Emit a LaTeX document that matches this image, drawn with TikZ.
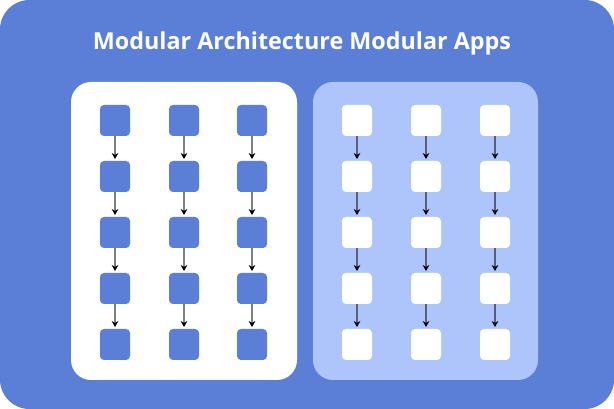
\documentclass[tikz,border=0pt]{standalone}
\usepackage{fontspec}
\setmainfont{Open Sans}
\usetikzlibrary{arrows.meta,positioning}
\definecolor{bgColor}{HTML}{5B7FD6}
\definecolor{panelColor}{HTML}{ADC5FA}
\definecolor{lnLeft}{HTML}{808080}
\definecolor{lnRight}{HTML}{565F79}
\tikzset{
	modbox/.style={rounded corners=3pt, minimum width=22.5pt, minimum height=23.25pt, inner sep=0, outer sep=0},
	link/.style={draw=#1, line width=1.1pt, shorten >=1.5pt, -{Stealth[black, length=4.5pt, width=5pt]}}
}

\begin{document}
\begin{tikzpicture}[x=0.75pt, y=-0.75pt]
	\useasboundingbox (0,0) rectangle (614,409);
	\fill[white] (0,0) rectangle (614,409);
	\fill[bgColor, rounded corners=22pt] (0,0) rectangle (614,409);
	\node[text=white, font=\fontsize{17.5}{21}\selectfont\bfseries, anchor=base] (title) at (302,49.5) {Modular Architecture Modular Apps};
	
	\fill[white, rounded corners=15pt] (71,82) rectangle (297,380);
	\fill[panelColor, rounded corners=15pt] (313,82) rectangle (538,380);
	
	\foreach \c/\x/\u in {1/115/357, 2/184/426, 3/252/495} {
		\foreach \r/\y in {1/120.5, 2/176.5, 3/232.5, 4/288.5, 5/344.5} {
			\node[modbox, fill=bgColor] (l\c\r) at (\x,\y) {};
			\node[modbox, fill=white] (r\c\r) at (\u,\y) {};
		}
		\foreach \r/\n in {1/2, 2/3, 3/4, 4/5} {
			\draw[link=lnLeft] (l\c\r) -- (l\c\n);
			\draw[link=lnRight] (r\c\r) -- (r\c\n);
		}
	}
\end{tikzpicture}
\end{document}
